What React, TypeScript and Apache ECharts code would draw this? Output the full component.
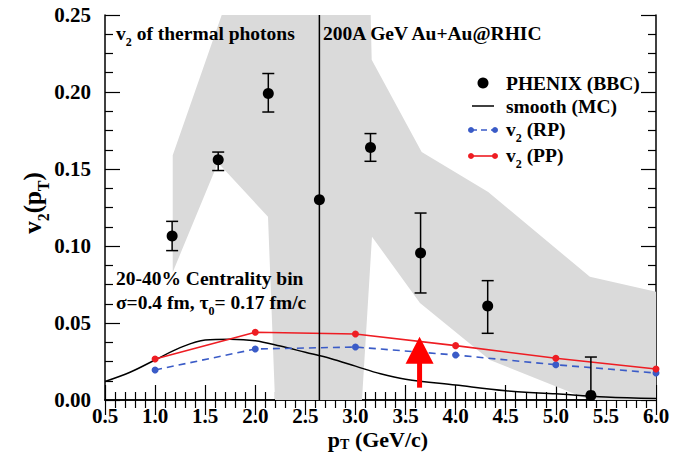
import React, { useEffect, useRef } from "react";
import * as echarts from "echarts";

// PHENIX (BBC) data points with error bars
const phenixX = [1.17, 1.63, 2.13, 2.64, 3.15, 3.65, 4.32, 5.35];
const phenixY = [0.1065, 0.156, 0.199, 0.13, 0.164, 0.0955, 0.061, 0.003];
const phenixLow = [0.097, 0.149, 0.187, -0.1, 0.155, 0.0695, 0.0433, -0.022];
const phenixHigh = [0.116, 0.161, 0.212, 0.4, 0.173, 0.1214, 0.0775, 0.0279];

// model curves
const modelX = [1, 2, 3, 4, 5, 6];
const rpY = [0.0195, 0.0331, 0.0344, 0.0292, 0.0229, 0.0175];
const ppY = [0.0266, 0.044, 0.0429, 0.0353, 0.0271, 0.0201];

// smooth (MC) curve samples
const mcX = [0.5, 0.75, 1.0, 1.25, 1.5, 1.75, 2.0, 2.25, 2.5, 2.75, 3.0, 3.25, 3.5, 4.0, 4.5, 5.0, 5.5, 6.0];
const mcY = [0.012, 0.018, 0.026, 0.034, 0.039, 0.0395, 0.0385, 0.035, 0.031, 0.027, 0.022, 0.017, 0.0135, 0.0097, 0.006, 0.004, 0.002, 0.001];

// systematic-error band outline
const bandX = [1.176, 1.665, 3.152, 3.162, 3.661, 4.325, 5.34, 6.0, 6.0, 5.34, 4.342, 3.644, 3.165, 3.065, 2.197, 2.127, 1.628, 1.176];
const bandY = [0.159, 0.25, 0.25, 0.221, 0.161, 0.135, 0.08, 0.0703, 0, 0, 0.026, 0.063, 0.106, 0, 0, 0.119, 0.154, 0.083];

// red arrow
const arrowX = [3.64];
const arrowTail = [0.008];
const arrowTip = [0.041];

const xTicks = { min: 0.5, max: 6.0, interval: 0.5 };
const yTicks = { min: 0, max: 0.25, interval: 0.05 };

const FONT = "Liberation Serif";
const rich = {
  n: { fontFamily: FONT, fontWeight: "bold", fontSize: 19.5, lineHeight: 30, verticalAlign: "middle", fill: "#000" },
  s: { fontFamily: FONT, fontWeight: "bold", fontSize: 12, lineHeight: 7, verticalAlign: "bottom", fill: "#000" },
};
const richBig = {
  n: { fontFamily: FONT, fontWeight: "bold", fontSize: 22, lineHeight: 24, verticalAlign: "middle", fill: "#000" },
  s: { fontFamily: FONT, fontWeight: "bold", fontSize: 14, lineHeight: 1, verticalAlign: "bottom", fill: "#000" },
};
const richTitleY = {
  n: { fontFamily: FONT, fontWeight: "bold", fontSize: 25, lineHeight: 38, verticalAlign: "middle", fill: "#000" },
  s: { fontFamily: FONT, fontWeight: "bold", fontSize: 16, lineHeight: 9, verticalAlign: "bottom", fill: "#000" },
};

function txt(x: number, y: number, text: string, extra: any = {}, r: any = rich) {
  return {
    type: "text",
    x,
    y,
    silent: true,
    z: 100,
    style: { text, rich: r, fill: "#000", verticalAlign: "middle", align: "left", ...extra },
  };
}

export default function App() {
  const ref = useRef<HTMLDivElement>(null);
  useEffect(() => {
    if (!ref.current) return;
    const chart = echarts.init(ref.current, undefined, { renderer: "svg" });
    const axisCommon = {
      axisLine: { show: true, lineStyle: { color: "#000", width: 1.5 } },
      axisTick: { show: true, inside: true, length: 15, lineStyle: { color: "#000", width: 1.2 } },
      splitLine: { show: false },
    };
    const labelStyle = { fontFamily: FONT, fontWeight: "bold", fontSize: 21, color: "#000" };
    const option: any = {
      animation: false,
      grid: { left: 105, right: 22, top: 15, bottom: 52, containLabel: false },
      xAxis: [
        {
          type: "value", ...xTicks, position: "bottom", ...axisCommon,
          minorTick: { show: true, splitNumber: 5, length: 8, lineStyle: { color: "#000", width: 1.2 } },
          axisLabel: { ...labelStyle, margin: 5, lineHeight: 21, formatter: (v: number) => v.toFixed(1) },
        },
        {
          type: "value", ...xTicks, position: "top", ...axisCommon,
          minorTick: { show: true, splitNumber: 5, length: 8, lineStyle: { color: "#000", width: 1.2 } },
          axisLabel: { show: false },
        },
      ],
      yAxis: [
        {
          type: "value", ...yTicks, position: "left", ...axisCommon,
          minorTick: { show: true, splitNumber: 4, length: 8, lineStyle: { color: "#000", width: 1.2 } },
          axisLabel: { ...labelStyle, margin: 14, formatter: (v: number) => v.toFixed(2) },
        },
        {
          type: "value", ...yTicks, position: "right", ...axisCommon,
          minorTick: { show: true, splitNumber: 4, length: 8, lineStyle: { color: "#000", width: 1.2 } },
          axisLabel: { show: false },
        },
      ],
      series: [
        {
          type: "custom",
          name: "band",
          clip: true,
          silent: true,
          z: 1,
          data: [[0]],
          renderItem: (params: any, api: any) => ({
            type: "polygon",
            shape: { points: bandX.map((x, i) => api.coord([x, bandY[i]])) },
            style: { fill: "#dadada" },
          }),
        },
        {
          type: "line",
          name: "smooth (MC)",
          data: mcX.map((x, i) => [x, mcY[i]]),
          smooth: 0.35,
          symbol: "none",
          lineStyle: { color: "#000", width: 1.5 },
          z: 3,
        },
        {
          type: "line",
          name: "v2 (RP)",
          data: modelX.map((x, i) => [x, rpY[i]]),
          symbol: "circle",
          symbolSize: 7,
          itemStyle: { color: "#3a5bc7", opacity: 1 },
          lineStyle: { color: "#3a5bc7", width: 1.6, type: [7, 5] },
          z: 4,
        },
        {
          type: "line",
          name: "v2 (PP)",
          data: modelX.map((x, i) => [x, ppY[i]]),
          symbol: "circle",
          symbolSize: 7,
          itemStyle: { color: "#ee1d23", opacity: 1 },
          lineStyle: { color: "#ee1d23", width: 1.6 },
          z: 4,
        },
        {
          type: "custom",
          name: "errors",
          clip: true,
          silent: true,
          z: 5,
          data: phenixX.map((x, i) => [x, phenixLow[i], phenixHigh[i]]),
          renderItem: (params: any, api: any) => {
            const lo = api.coord([api.value(0), api.value(1)]);
            const hi = api.coord([api.value(0), api.value(2)]);
            const w = 6;
            const st = { stroke: "#000", lineWidth: 1.5 };
            return {
              type: "group",
              children: [
                { type: "line", shape: { x1: lo[0], y1: lo[1], x2: hi[0], y2: hi[1] }, style: st },
                { type: "line", shape: { x1: lo[0] - w, y1: lo[1], x2: lo[0] + w, y2: lo[1] }, style: st },
                { type: "line", shape: { x1: hi[0] - w, y1: hi[1], x2: hi[0] + w, y2: hi[1] }, style: st },
              ],
            };
          },
        },
        {
          type: "scatter",
          name: "PHENIX (BBC)",
          data: phenixX.map((x, i) => [x, phenixY[i]]),
          symbol: "circle",
          symbolSize: 11,
          itemStyle: { color: "#000", opacity: 1 },
          z: 6,
        },
        {
          type: "custom",
          name: "arrow",
          clip: true,
          silent: true,
          z: 7,
          data: arrowX.map((x, i) => [x, arrowTail[i], arrowTip[i]]),
          renderItem: (params: any, api: any) => {
            const tail = api.coord([api.value(0), api.value(1)]);
            const tip = api.coord([api.value(0), api.value(2)]);
            const headLen = 27;
            const headHalf = 14;
            const shaft = 5;
            const baseY = tip[1] + headLen;
            return {
              type: "group",
              children: [
                { type: "rect", shape: { x: tail[0] - shaft / 2, y: baseY - 1, width: shaft, height: tail[1] - baseY + 1 }, style: { fill: "#ff0000" } },
                { type: "polygon", shape: { points: [[tip[0], tip[1]], [tip[0] - headHalf, baseY], [tip[0] + headHalf, baseY]] }, style: { fill: "#ff0000" } },
              ],
            };
          },
        },
      ],
      graphic: [
        txt(116, 33, "{n|v}{s|2}{n| of thermal photons}"),
        txt(323, 33, "{n|200A GeV Au+Au@RHIC}"),
        txt(116, 278, "{n|20-40% Centrality bin}"),
        txt(116, 302, "{n|σ=0.4 fm, τ}{s|0}{n|= 0.17 fm/c}"),
        // legend
        { type: "circle", shape: { cx: 483, cy: 83, r: 5.5 }, style: { fill: "#000" }, z: 100 },
        txt(506, 83, "{n|PHENIX (BBC)}"),
        { type: "line", shape: { x1: 472, y1: 106, x2: 494, y2: 106 }, style: { stroke: "#000", lineWidth: 1.5 }, z: 100 },
        txt(506, 106, "{n|smooth (MC)}"),
        { type: "line", shape: { x1: 471, y1: 130, x2: 495, y2: 130 }, style: { stroke: "#3a5bc7", lineWidth: 1.6, lineDash: [6, 4] }, z: 100 },
        { type: "circle", shape: { cx: 471, cy: 130, r: 3 }, style: { fill: "#3a5bc7" }, z: 100 },
        { type: "circle", shape: { cx: 495, cy: 130, r: 3 }, style: { fill: "#3a5bc7" }, z: 100 },
        txt(506, 129, "{n|v}{s|2}{n| (RP)}"),
        { type: "line", shape: { x1: 471, y1: 156, x2: 495, y2: 156 }, style: { stroke: "#ee1d23", lineWidth: 1.6 }, z: 100 },
        { type: "circle", shape: { cx: 471, cy: 156, r: 3 }, style: { fill: "#ee1d23" }, z: 100 },
        { type: "circle", shape: { cx: 495, cy: 156, r: 3 }, style: { fill: "#ee1d23" }, z: 100 },
        txt(506, 155, "{n|v}{s|2}{n| (PP)}"),
        // axis titles
        txt(378, 439, "{n|p}{s|T}{n| (GeV/c)}", { align: "center" }, richBig),
        {
          type: "text",
          x: 32,
          y: 203,
          rotation: Math.PI / 2,
          silent: true,
          style: { text: "{n|v}{s|2}{n|(p}{s|T}{n|)}", rich: richTitleY, fill: "#000", align: "center", verticalAlign: "middle" },
        },
      ],
    };
    chart.setOption(option);
    return () => chart.dispose();
  }, []);
  return <div ref={ref} style={{ position: "fixed", left: 0, top: 0, width: 678, height: 452, background: "#fff" }} />;
}
